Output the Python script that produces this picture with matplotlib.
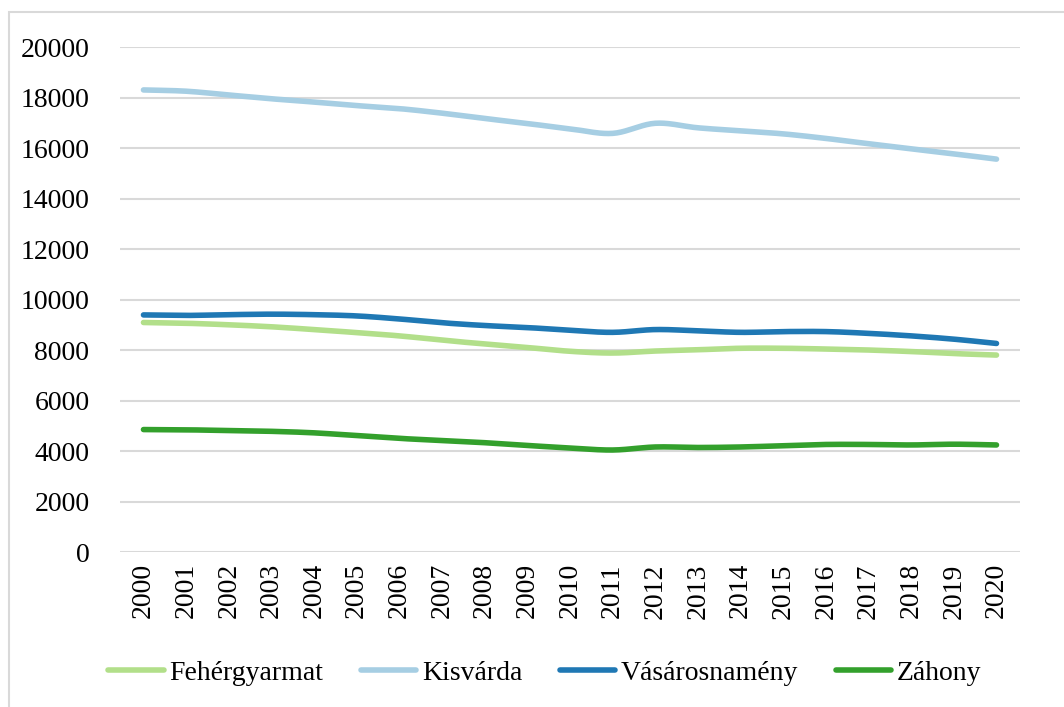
import numpy as np
import matplotlib.pyplot as plt
from matplotlib.patches import Rectangle

# Data
years = list(range(2000, 2021))
fehergyarmat = [9090, 9060, 9000, 8920, 8810, 8690, 8560, 8390, 8240, 8100, 7950,
                7880, 7960, 8010, 8070, 8070, 8040, 8000, 7940, 7860, 7800]
kisvarda = [18300, 18250, 18100, 17950, 17820, 17680, 17560, 17380, 17170, 16970, 16760,
            16580, 16980, 16800, 16680, 16560, 16380, 16170, 15970, 15770, 15560]
vasarosnameny = [9390, 9370, 9400, 9420, 9400, 9350, 9230, 9080, 8970, 8890, 8780,
                 8700, 8810, 8760, 8700, 8730, 8730, 8660, 8560, 8430, 8260]
zahony = [4850, 4840, 4810, 4780, 4720, 4610, 4500, 4420, 4330, 4220, 4120,
          4040, 4160, 4140, 4160, 4210, 4260, 4260, 4240, 4270, 4240]

series = [('Fehérgyarmat', fehergyarmat, '#b2df8a'),
          ('Kisvárda', kisvarda, '#a6cee3'),
          ('Vásárosnamény', vasarosnameny, '#1f78b4'),
          ('Záhony', zahony, '#33a02c')]


def smooth(x, y, n=20):
    # Catmull-Rom curve through the points, like Excel's smoothed line
    x = np.asarray(x, float)
    y = np.asarray(y, float)
    px = np.concatenate([[2 * x[0] - x[1]], x, [2 * x[-1] - x[-2]]])
    py = np.concatenate([[2 * y[0] - y[1]], y, [2 * y[-1] - y[-2]]])
    xs, ys = [], []
    t = np.linspace(0, 1, n, endpoint=False)
    for i in range(1, len(px) - 2):
        for p, out in ((px, xs), (py, ys)):
            p0, p1, p2, p3 = p[i - 1], p[i], p[i + 1], p[i + 2]
            out.extend(0.5 * (2 * p1 + (-p0 + p2) * t
                              + (2 * p0 - 5 * p1 + 4 * p2 - p3) * t ** 2
                              + (-p0 + 3 * p1 - 3 * p2 + p3) * t ** 3))
    xs.append(x[-1])
    ys.append(y[-1])
    return xs, ys


plt.rcParams['font.family'] = ['Liberation Serif', 'DejaVu Serif']

fig = plt.figure(figsize=(10.64, 7.07), dpi=100)
ax = fig.add_axes([0.1128, 0.2192, 0.8458, 0.7143])

# outer chart border
fig.patches.append(Rectangle((9 / 1064, -0.05), 1.1, 1 - 12 / 707 + 0.05,
                             transform=fig.transFigure, fill=False,
                             edgecolor='#d9d9d9', linewidth=1.5))

for name, vals, color in series:
    sx, sy = smooth(years, vals)
    ax.plot(sx, sy, color=color, linewidth=4, solid_capstyle='round',
            label=name)

ax.set_xlim(1999.45, 2020.55)
ax.set_ylim(0, 20000)
ax.set_yticks(range(0, 20001, 2000))
ax.set_xticks(years)
ax.set_xticklabels([str(y) for y in years], rotation=90)
ax.tick_params(axis='both', length=0, labelsize=20, colors='black')
ax.tick_params(axis='y', pad=22)
ax.tick_params(axis='x', pad=8)
ax.grid(axis='y', color='#d9d9d9', linewidth=1.5)
ax.set_axisbelow(True)
for s in ax.spines.values():
    s.set_visible(False)

fig.legend(loc='center', bbox_to_anchor=(0.512, 1 - 673 / 707), ncol=4,
           frameon=False, fontsize=20, handlelength=2.0, handletextpad=0.2,
           columnspacing=1.35)

fig.savefig('out.png', dpi=100)
